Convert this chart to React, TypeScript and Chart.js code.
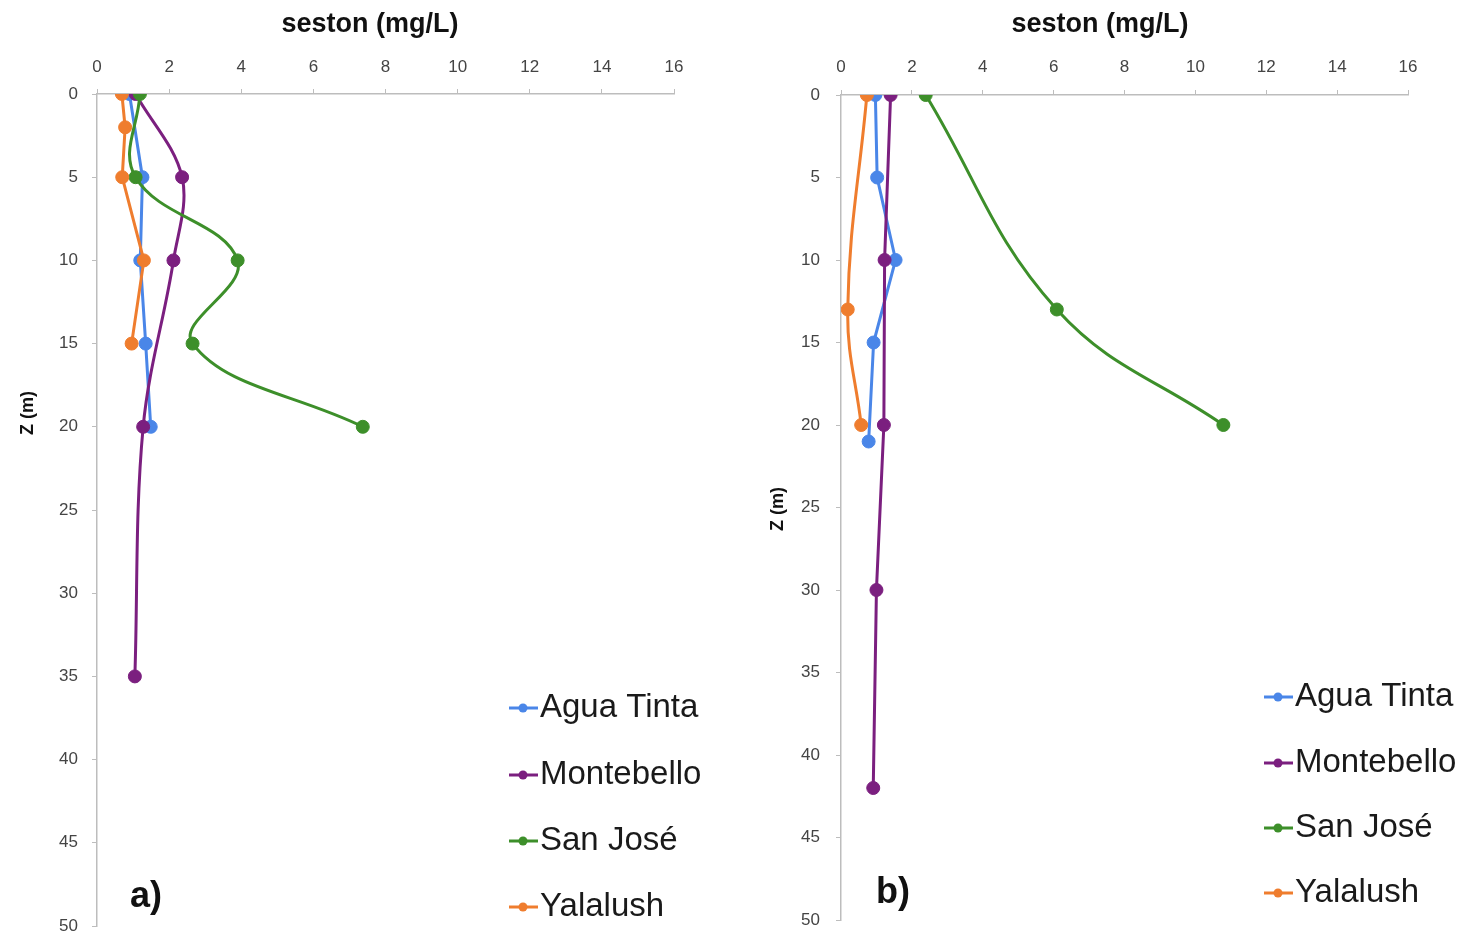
import React, { useEffect, useRef } from "react";
import { Chart, registerables } from "chart.js";
Chart.register(...registerables);

// ---------- data ----------
const seriesNames = ["Agua Tinta", "Montebello", "San José", "Yalalush"];
const seriesColors = ["#4a86e8", "#7b1f7f", "#3d8f2a", "#ef7d2e"];
const xTickMax = 16;
const xTickStep = 2;
const yTickMax = 50;
const yTickStep = 5;

// Panel a
const aAguaDepth = [0, 5, 10, 15, 20];
const aAguaSeston = [0.9, 1.26, 1.2, 1.35, 1.49];
const aMonteDepth = [0, 5, 10, 20, 35];
const aMonteSeston = [1.07, 2.36, 2.12, 1.28, 1.05];
const aSanDepth = [0, 5, 10, 15, 20];
const aSanSeston = [1.19, 1.07, 3.9, 2.65, 7.37];
const aYalaDepth = [0, 2, 5, 10, 15];
const aYalaSeston = [0.69, 0.78, 0.7, 1.3, 0.96];

// Panel b
const bAguaDepth = [0, 5, 10, 15, 21];
const bAguaSeston = [0.97, 1.02, 1.54, 0.92, 0.78];
const bMonteDepth = [0, 10, 20, 30, 42];
const bMonteSeston = [1.4, 1.23, 1.21, 1.0, 0.91];
const bSanDepth = [0, 13, 20];
const bSanSeston = [2.39, 6.09, 10.79];
const bYalaDepth = [0, 13, 20];
const bYalaSeston = [0.73, 0.19, 0.57];

const xTitle = "seston (mg/L)";
const yTitle = "Z (m)";

const toPts = (xs: number[], ys: number[]) => xs.map((x, i) => ({ x, y: ys[i] }));

type PanelCfg = {
  label: string;
  series: { x: number[]; y: number[]; tension: number }[];
  yAxisWidth: number;
  xAxisHeight: number;
  padRight: number;
  padBottom: number;
  yLabelPad: number;
  xLabelPad: number;
  titleX: number;
  yTitlePos: [number, number];
  labelPos: [number, number];
  legendX: number;
  legendYs: number[];
};

const panelA: PanelCfg = {
  label: "a)",
  series: [
    { x: aAguaSeston, y: aAguaDepth, tension: 0 },
    { x: aMonteSeston, y: aMonteDepth, tension: 0.35 },
    { x: aSanSeston, y: aSanDepth, tension: 0.4 },
    { x: aYalaSeston, y: aYalaDepth, tension: 0 },
  ],
  yAxisWidth: 97,
  xAxisHeight: 94,
  padRight: 59,
  padBottom: 12,
  yLabelPad: 14,
  xLabelPad: 11,
  titleX: 370,
  yTitlePos: [28, 413],
  labelPos: [130, 897],
  legendX: 509,
  legendYs: [708, 775, 841, 907],
};

const panelB: PanelCfg = {
  label: "b)",
  series: [
    { x: bAguaSeston, y: bAguaDepth, tension: 0 },
    { x: bMonteSeston, y: bMonteDepth, tension: 0 },
    { x: bSanSeston, y: bSanDepth, tension: 0.4 },
    { x: bYalaSeston, y: bYalaDepth, tension: 0.4 },
  ],
  yAxisWidth: 108,
  xAxisHeight: 95,
  padRight: 58,
  padBottom: 18,
  yLabelPad: 16,
  xLabelPad: 12,
  titleX: 367,
  yTitlePos: [45, 509],
  labelPos: [143, 893],
  legendX: 531,
  legendYs: [697, 763, 828, 893],
};

const FONT = "'Liberation Sans', Arial, sans-serif";

function Panel({ left, cfg }: { left: number; cfg: PanelCfg }) {
  const ref = useRef<HTMLCanvasElement>(null);
  useEffect(() => {
    const deco = {
      id: "deco",
      afterDraw(chart: any) {
        const ctx = chart.ctx;
        ctx.save();
        // x title
        ctx.fillStyle = "#111";
        ctx.font = `bold 27px ${FONT}`;
        ctx.textAlign = "center";
        ctx.textBaseline = "middle";
        ctx.fillText(xTitle, cfg.titleX, 25);
        // y title
        ctx.save();
        ctx.translate(cfg.yTitlePos[0], cfg.yTitlePos[1]);
        ctx.rotate(-Math.PI / 2);
        ctx.font = `bold 18px ${FONT}`;
        ctx.fillText(yTitle, 0, 0);
        ctx.restore();
        // panel label
        ctx.font = `bold 36px ${FONT}`;
        ctx.textAlign = "left";
        ctx.fillText(cfg.label, cfg.labelPos[0], cfg.labelPos[1]);
        // legend
        seriesNames.forEach((name, i) => {
          const y = cfg.legendYs[i];
          const x0 = cfg.legendX;
          ctx.strokeStyle = seriesColors[i];
          ctx.lineWidth = 3;
          ctx.beginPath();
          ctx.moveTo(x0, y);
          ctx.lineTo(x0 + 29, y);
          ctx.stroke();
          ctx.fillStyle = seriesColors[i];
          ctx.beginPath();
          ctx.arc(x0 + 14, y, 4.5, 0, Math.PI * 2);
          ctx.fill();
          ctx.fillStyle = "#1a1a1a";
          ctx.font = `33px ${FONT}`;
          ctx.textAlign = "left";
          ctx.textBaseline = "middle";
          ctx.fillText(name, x0 + 31, y);
        });
        ctx.restore();
      },
    };

    const chart = new Chart(ref.current!, {
      type: "scatter",
      data: {
        datasets: cfg.series.map((s, i) => ({
          label: seriesNames[i],
          data: toPts(s.x, s.y),
          showLine: true,
          borderColor: seriesColors[i],
          backgroundColor: seriesColors[i],
          borderWidth: 3,
          pointRadius: 6.5,
          pointBorderWidth: 1,
          pointBorderColor: seriesColors[i],
          pointBackgroundColor: seriesColors[i],
          tension: s.tension,
          order: 4 - i,
        })),
      },
      options: {
        responsive: false,
        animation: false,
        layout: { padding: { left: 0, top: 0, right: cfg.padRight, bottom: cfg.padBottom } },
        plugins: { legend: { display: false }, tooltip: { enabled: false } },
        scales: {
          x: {
            type: "linear",
            position: "top",
            min: 0,
            max: xTickMax,
            ticks: {
              stepSize: xTickStep,
              color: "#444",
              font: { family: FONT, size: 17 },
              padding: cfg.xLabelPad,
            },
            grid: { drawOnChartArea: false, drawTicks: true, tickLength: 5, color: "#bdbdbd" },
            border: { display: true, color: "#bdbdbd", width: 1.5 },
            afterFit: (s: any) => {
              s.height = cfg.xAxisHeight;
              s.paddingLeft = 0;
              s.paddingRight = 0;
            },
          },
          y: {
            type: "linear",
            reverse: true,
            min: 0,
            max: yTickMax,
            ticks: {
              stepSize: yTickStep,
              color: "#444",
              font: { family: FONT, size: 17 },
              padding: cfg.yLabelPad,
            },
            grid: { drawOnChartArea: false, drawTicks: true, tickLength: 5, color: "#bdbdbd" },
            border: { display: true, color: "#bdbdbd", width: 1.5 },
            afterFit: (s: any) => {
              s.width = cfg.yAxisWidth;
              s.paddingTop = 0;
              s.paddingBottom = 0;
            },
          },
        },
      },
      plugins: [deco],
    } as any);
    return () => chart.destroy();
  }, []);
  return (
    <div style={{ position: "absolute", left, top: 0, width: 733, height: 938 }}>
      <canvas ref={ref} width={733} height={938} style={{ width: 733, height: 938, display: "block" }} />
    </div>
  );
}

export default function App() {
  return (
    <div style={{ position: "fixed", left: 0, top: 0, width: 1466, height: 938, background: "#fff" }}>
      <Panel left={0} cfg={panelA} />
      <Panel left={733} cfg={panelB} />
    </div>
  );
}
